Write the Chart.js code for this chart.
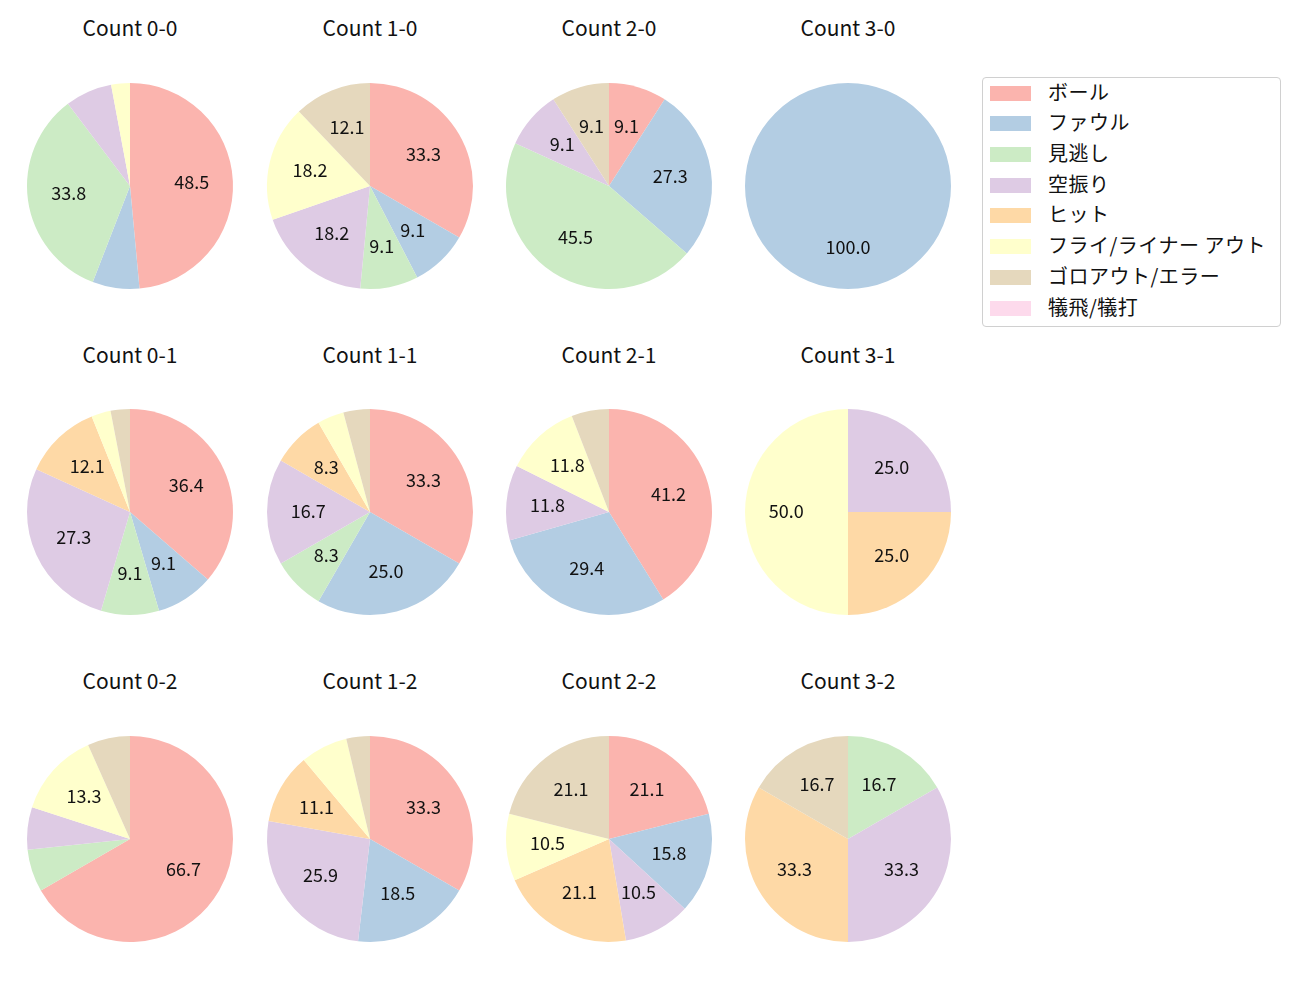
<!DOCTYPE html>
<html>
<head>
<meta charset="utf-8">
<script src="https://cdn.jsdelivr.net/npm/chart.js@4"></script>
<style>
  body { margin: 0; background: #fff; font-family: "Noto Sans CJK JP", "DejaVu Sans", sans-serif; }
  #wrap { position: relative; width: 1300px; height: 1000px; }
  .ttl { position: absolute; width: 240px; text-align: center; font-size: 21px; color: #111; line-height: 24px; }
  .pie { position: absolute; }
  #legend { position: absolute; left: 982px; top: 77px; width: 297px; height: 248px;
            border: 1px solid #d0d0d0; border-radius: 4px; background: #fff; }
  .item { position: absolute; left: 7px; height: 20px; }
  .sw { position: absolute; left: 0; top: 3px; width: 41px; height: 15px; }
  .lt { position: absolute; left: 58px; top: -4px; font-size: 20px; color: #111; white-space: nowrap; line-height: 26px; letter-spacing: 0.5px; }
</style>
</head>
<body>
<div id="wrap"></div>
<script>
const categories = ['ボール', 'ファウル', '見逃し', '空振り', 'ヒット', 'フライ/ライナー アウト', 'ゴロアウト/エラー', '犠飛/犠打'];
const colors = ['#fbb4ae', '#b3cde3', '#ccebc5', '#decbe4', '#fed9a6', '#ffffcc', '#e5d8bd', '#fddaec'];

const titles = ['Count 0-0', 'Count 1-0', 'Count 2-0', 'Count 3-0',
                'Count 0-1', 'Count 1-1', 'Count 2-1', 'Count 3-1',
                'Count 0-2', 'Count 1-2', 'Count 2-2', 'Count 3-2'];

// pitches per category, same order as categories
const c00 = [33, 5, 23, 5, 0, 2, 0, 0];
const c10 = [11, 3, 3, 6, 0, 6, 4, 0];
const c20 = [1, 3, 5, 1, 0, 0, 1, 0];
const c30 = [0, 1, 0, 0, 0, 0, 0, 0];
const c01 = [12, 3, 3, 9, 4, 1, 1, 0];
const c11 = [8, 6, 2, 4, 2, 1, 1, 0];
const c21 = [7, 5, 0, 2, 0, 2, 1, 0];
const c31 = [0, 0, 0, 1, 1, 2, 0, 0];
const c02 = [10, 0, 1, 1, 0, 2, 1, 0];
const c12 = [9, 5, 0, 7, 3, 2, 1, 0];
const c22 = [4, 3, 0, 2, 4, 2, 4, 0];
const c32 = [0, 0, 1, 2, 2, 0, 1, 0];
const series = [c00, c10, c20, c30, c01, c11, c21, c31, c02, c12, c22, c32];

const colX = [130, 370, 609, 848];
const rowY = [186, 512, 839];
const titleY = [29, 356, 682];
const R = 103;
const SIZE = 220;

// percentage labels inside slices (like autopct)
const pctLabels = {
    id: 'pctLabels',
    afterDatasetsDraw(chart) {
        const ctx = chart.ctx;
        const data = chart.data.datasets[0].data;
        const total = data.reduce((a, b) => a + b, 0);
        const meta = chart.getDatasetMeta(0);
        ctx.save();
        ctx.font = '18px "Noto Sans CJK JP", "DejaVu Sans", sans-serif';
        ctx.fillStyle = '#111';
        ctx.textAlign = 'center';
        ctx.textBaseline = 'middle';
        meta.data.forEach((arc, i) => {
            const pct = data[i] / total * 100;
            if (pct < 8) return;
            const p = arc.getProps(['startAngle', 'endAngle', 'x', 'y', 'outerRadius'], true);
            const mid = (p.startAngle + p.endAngle) / 2;
            const r = p.outerRadius * 0.6;
            ctx.fillText(pct.toFixed(1), p.x + Math.cos(mid) * r, p.y + Math.sin(mid) * r - 1);
        });
        ctx.restore();
    }
};

const wrap = document.getElementById('wrap');

series.forEach((vals, k) => {
    const col = k % 4, row = Math.floor(k / 4);
    const t = document.createElement('div');
    t.className = 'ttl';
    t.textContent = titles[k];
    t.style.left = (colX[col] - 120) + 'px';
    t.style.top = (titleY[row] - 14) + 'px';
    wrap.appendChild(t);

    const cv = document.createElement('canvas');
    cv.className = 'pie';
    cv.width = SIZE;
    cv.height = SIZE;
    cv.style.left = (colX[col] - SIZE / 2) + 'px';
    cv.style.top = (rowY[row] - SIZE / 2) + 'px';
    wrap.appendChild(cv);

    new Chart(cv.getContext('2d'), {
        type: 'pie',
        data: {
            labels: categories,
            datasets: [{ data: vals, backgroundColor: colors, borderWidth: 0 }]
        },
        options: {
            responsive: false,
            animation: false,
            radius: R,
            layout: { padding: 0 },
            plugins: { legend: { display: false }, tooltip: { enabled: false } }
        },
        plugins: [pctLabels]
    });
});

// legend
const lg = document.createElement('div');
lg.id = 'legend';
const rowTops = [15, 45, 76, 107, 137, 168, 199, 230];
categories.forEach((c, i) => {
    const it = document.createElement('div');
    it.className = 'item';
    it.style.top = (rowTops[i] - 10) + 'px';
    it.innerHTML = '<div class="sw" style="background:' + colors[i] + '"></div><div class="lt">' + c + '</div>';
    lg.appendChild(it);
});
wrap.appendChild(lg);
</script>
</body>
</html>
